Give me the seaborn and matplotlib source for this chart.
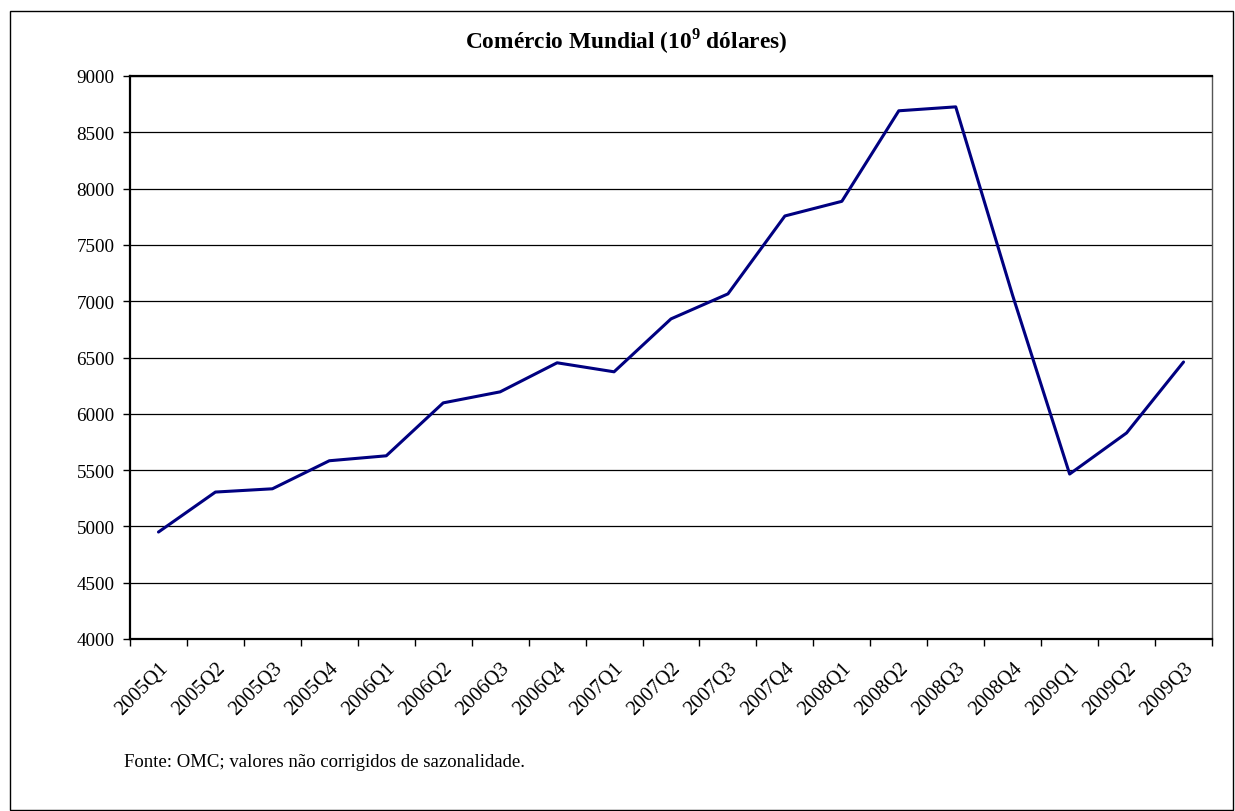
import matplotlib
matplotlib.use("Agg")
import matplotlib.pyplot as plt
import seaborn as sns
import pandas as pd
import numpy as np
from matplotlib.patches import Rectangle

quarters = ["2005Q1", "2005Q2", "2005Q3", "2005Q4",
            "2006Q1", "2006Q2", "2006Q3", "2006Q4",
            "2007Q1", "2007Q2", "2007Q3", "2007Q4",
            "2008Q1", "2008Q2", "2008Q3", "2008Q4",
            "2009Q1", "2009Q2", "2009Q3"]
trade = [4950, 5305, 5334, 5583,
         5627, 6097, 6195, 6453,
         6373, 6843, 7065, 7757,
         7887, 8691, 8726, 7050,
         5465, 5830, 6460]
y_ticks = [4000, 4500, 5000, 5500, 6000, 6500, 7000, 7500, 8000, 8500, 9000]
title = r"Comércio Mundial (10$^{\mathbf{9}}$ dólares)"
note = "Fonte: OMC; valores não corrigidos de sazonalidade."

sns.set_style("white")
plt.rcParams["font.family"] = ["Liberation Serif", "DejaVu Serif"]
plt.rcParams["mathtext.fontset"] = "custom"
plt.rcParams["mathtext.rm"] = "Liberation Serif"
plt.rcParams["mathtext.bf"] = "Liberation Serif:bold"
plt.rcParams["text.color"] = "black"
plt.rcParams["xtick.color"] = "black"
plt.rcParams["ytick.color"] = "black"
plt.rcParams["xtick.labelcolor"] = "black"
plt.rcParams["ytick.labelcolor"] = "black"

df = pd.DataFrame({"q": quarters, "v": trade})
df["pos"] = np.arange(len(quarters))

W, H = 1235, 812
fig = plt.figure(figsize=(W / 100, H / 100), dpi=100)
ax = fig.add_axes([130 / W, 1 - 640 / H, (1212 - 130) / W, (640 - 77) / H])

sns.lineplot(data=df, x="pos", y="v", ax=ax, color="#000080", linewidth=2.2)

ax.set_xlim(-0.5, len(quarters) - 0.5)
ax.set_ylim(4000, 9000)
ax.set_yticks(y_ticks)
ax.set_yticklabels([str(t) for t in y_ticks], fontsize=13.8)
ax.yaxis.grid(True, color="black", linewidth=0.9)
ax.set_axisbelow(True)

ax.set_xticks(df["pos"])
ax.set_xticklabels(quarters, rotation=45, ha="right", va="top",
                   rotation_mode="anchor", fontsize=14.8)
ax.set_xticks(np.arange(-0.5, len(quarters)), minor=True)
ax.tick_params(axis="x", which="major", length=0, pad=14)
ax.tick_params(axis="x", which="minor", length=5, width=1, color="black", direction="out", bottom=True)
ax.tick_params(axis="y", length=5, width=1, color="black", direction="out", left=True, pad=6)
ax.set_xlabel("")
ax.set_ylabel("")

for s in ["left", "bottom", "top"]:
    ax.spines[s].set_color("black")
    ax.spines[s].set_linewidth(1.6)
ax.spines["right"].set_color("#555555")
ax.spines["right"].set_linewidth(1.0)

fig.text(626 / W, 1 - 41 / H, title, ha="center", va="center",
         fontsize=16.8, fontweight="bold", color="black")
fig.text(124 / W, 1 - 763 / H, note, ha="left", va="center", fontsize=13.5, color="black")

fig.patches.append(Rectangle((10 / W, 1 - 811 / H), (1233 - 10) / W, (811 - 12) / H,
                             transform=fig.transFigure, fill=False,
                             edgecolor="black", linewidth=1.0))

fig.savefig("out.png", dpi=100, facecolor="white")
